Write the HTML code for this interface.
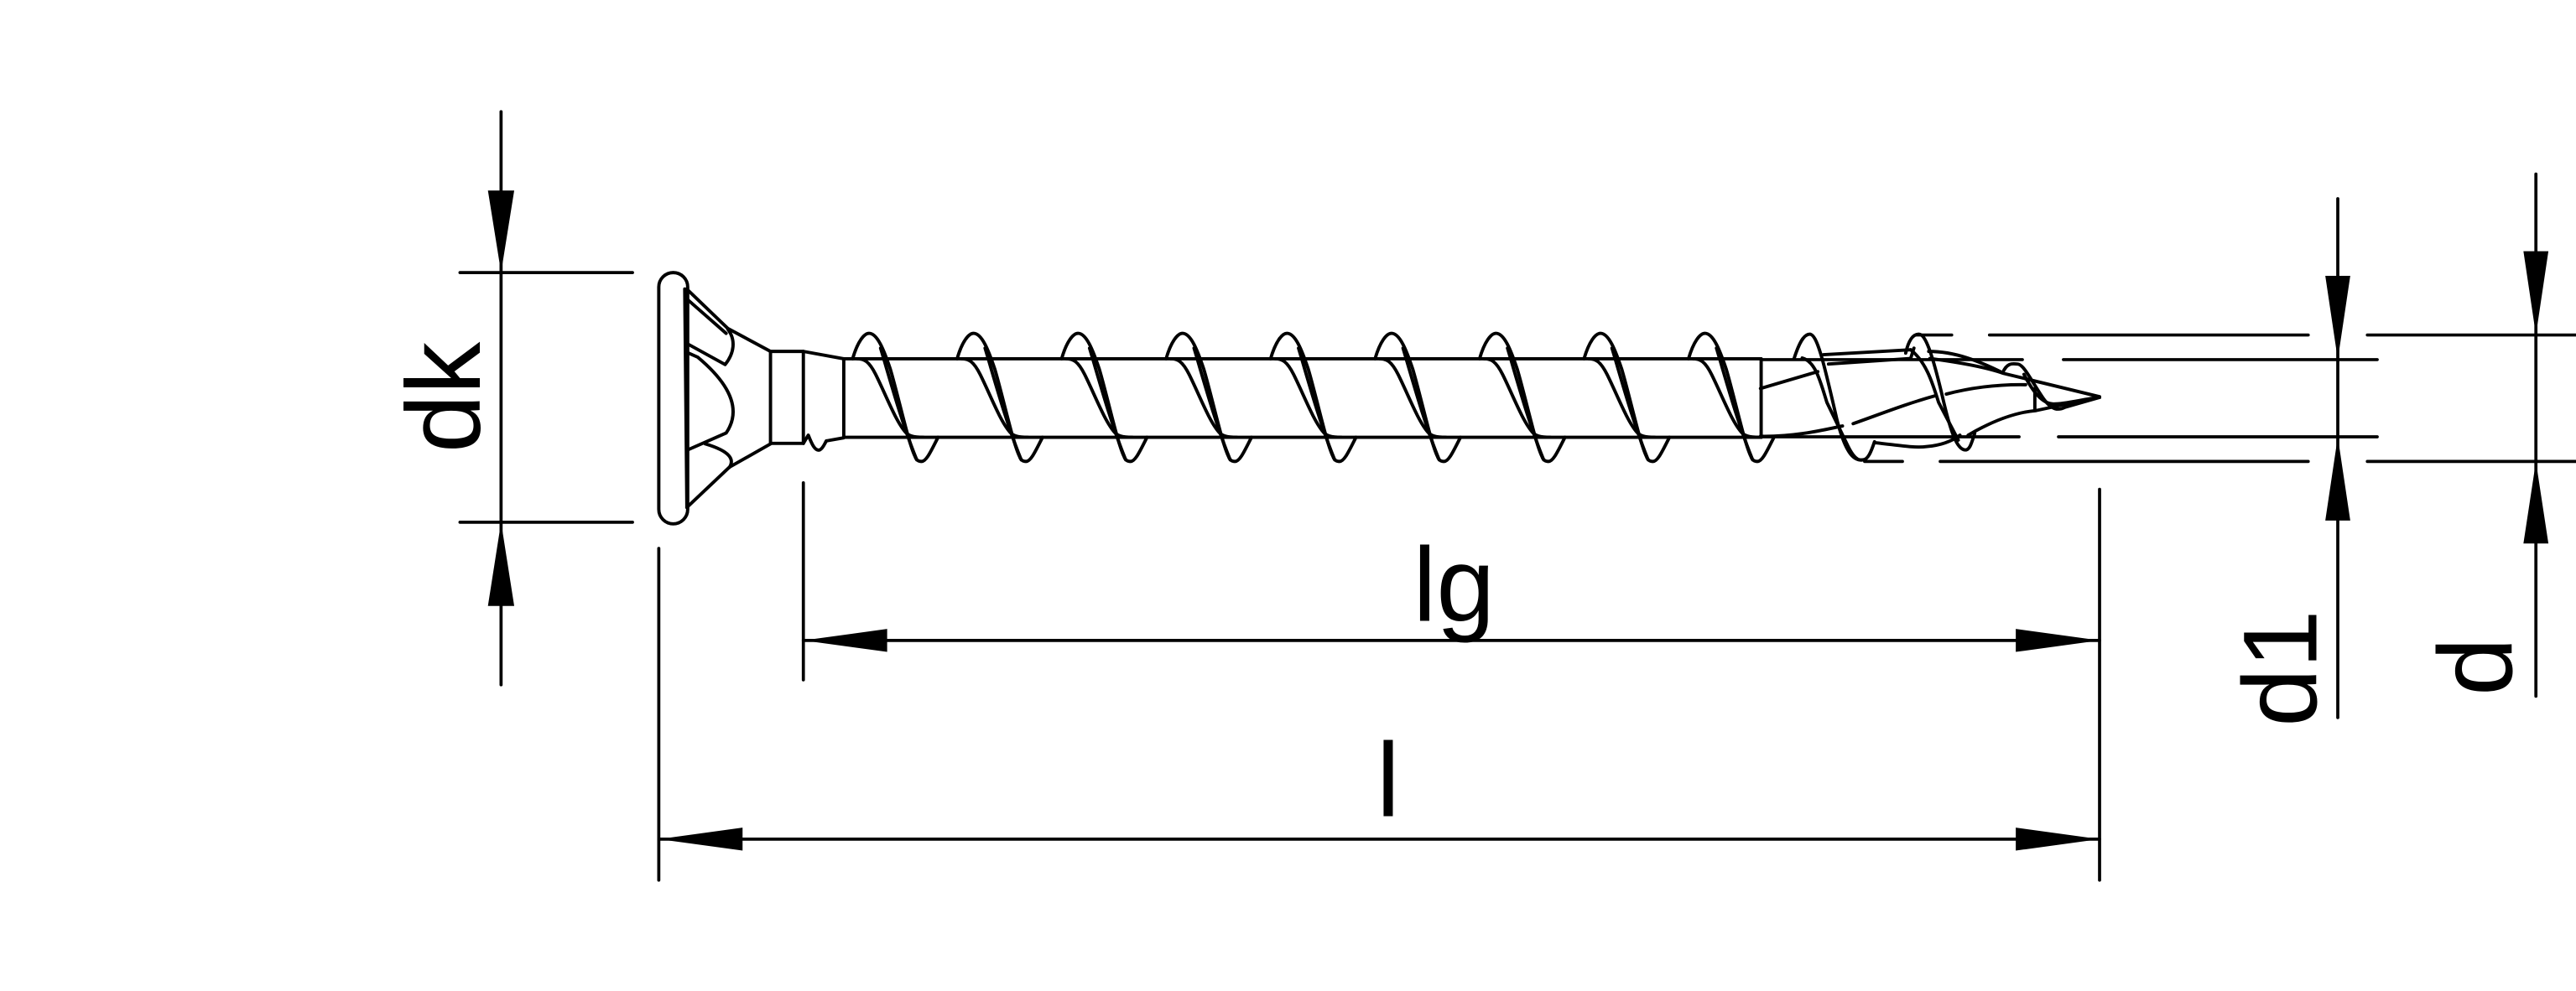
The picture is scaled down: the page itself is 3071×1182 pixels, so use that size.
<!DOCTYPE html>
<html><head><meta charset="utf-8"><style>
html,body{margin:0;padding:0;background:#fff;}
svg{display:block;}
text{font-family:"Liberation Sans",Arial,sans-serif;fill:#000;}
</style></head><body>
<svg width="3071" height="1182" viewBox="0 0 1568 603.5" preserveAspectRatio="none" xmlns="http://www.w3.org/2000/svg">
<g fill="none" stroke="#000" stroke-width="1.9" stroke-linecap="round" stroke-linejoin="round">
<line x1="305" y1="68" x2="305" y2="417"/>
<line x1="280" y1="166" x2="385" y2="166"/>
<line x1="280" y1="318" x2="385" y2="318"/>
<line x1="401" y1="334" x2="401" y2="536"/>
<line x1="489" y1="294" x2="489" y2="414"/>
<line x1="1278" y1="298" x2="1278" y2="536"/>
<line x1="489" y1="390" x2="1278" y2="390"/>
<line x1="401" y1="511" x2="1278" y2="511"/>
<line x1="1423" y1="121" x2="1423" y2="437"/>
<line x1="1543.6" y1="106" x2="1543.6" y2="424"/>
<line x1="1166" y1="204" x2="1188" y2="204"/><line x1="1211" y1="204" x2="1405" y2="204"/><line x1="1441" y1="204" x2="1568" y2="204"/>
<line x1="1072" y1="219" x2="1231" y2="219"/><line x1="1256" y1="219" x2="1447" y2="219"/>
<line x1="1072" y1="266" x2="1229" y2="266"/><line x1="1253" y1="266" x2="1447" y2="266"/>
<line x1="1135" y1="281" x2="1158" y2="281"/><line x1="1181" y1="281" x2="1405" y2="281"/><line x1="1441" y1="281" x2="1568" y2="281"/>
</g>
<g fill="none" stroke="#000" stroke-width="2" stroke-linecap="round" stroke-linejoin="round">
<rect x="401" y="166" width="17.6" height="153" rx="8.8"/>
<line x1="416.8" y1="176" x2="418.1" y2="309"/>
<path d="M418 176 L443 200 L469 214"/>
<path d="M418 182 L442 203"/>
<path d="M443 200.5 C448 207 447 215 441.4 222 L419 209.7"/>
<path d="M419 215 L424.7 217.5 C448 237 450 252 442 263.7 L419 273.8"/>
<path d="M429.3 270.3 C445 275 447 280 444 284.6"/>
<path d="M418.1 309 L444 284.5 L469 270.3"/>
<rect x="469" y="214" width="20" height="56"/>
<path d="M489 214 L513.6 218.5 L513.6 266.6 L503 268.5"/>
<path d="M489 270 L492 265 C494 270 496 275 499 274 C501 273 502 270 503 268.5"/>
<line x1="513.6" y1="218.5" x2="1072" y2="218.5"/>
<line x1="513.6" y1="266.3" x2="1072" y2="266.3"/>
<line x1="1072" y1="218.5" x2="1072" y2="266.3"/>
<g id="t0">
<path d="M519 218.5 C522 208 526 203 529 203 C534 203 538 213 542 225 C547 242 553 270 557 278 C558 281 560 281 561 281 C564 281 567 274 571 266.3"/>
<path d="M536 212 C542 232 549 258 558 280"/>
<path d="M522 218.5 C526 218.5 529 220 533 228 C539 240 545 256 551 263 C553 265.5 556 266.3 562 266.3"/>
</g>
<use href="#t0" x="63.6"/><use href="#t0" x="127.2"/><use href="#t0" x="190.8"/><use href="#t0" x="254.4"/>
<use href="#t0" x="318"/><use href="#t0" x="381.6"/><use href="#t0" x="445.2"/><use href="#t0" x="508.8"/>
<path d="M1071.6 236.6 L1106.5 226.3"/>
<path d="M1071.6 265.7 C1090 266 1105 263 1121.5 259.4"/>
<path d="M1092 218.5 C1096 206 1099 203.5 1101.6 203.5 C1106 203.5 1110 220 1118 255 C1123 275 1128 281 1134 280 C1137 280 1139 275 1141 269"/>
<path d="M1097 218 C1105 220 1108 232 1112 245 L1125 272 C1128 278 1131 281 1134 280"/>
<path d="M1109.9 216 L1163 213"/>
<path d="M1113 221.7 L1163 218.3 L1165 212"/>
<path d="M1128 258 C1145 252 1160 246 1178 241"/>
<path d="M1141.5 269.6 C1155 271 1165 273 1173 271.9 C1183 271 1189 268 1193 265"/>
<path d="M1160 215 C1162 206 1165 203.5 1168 203.5 C1172 203.5 1176 215 1182 240 C1187 262 1191 274 1196.3 274 C1199 274 1200 270 1202 264"/>
<path d="M1163 213 C1172 220 1176 232 1180 245 L1192 268"/>
<path d="M1184.7 240 C1200 236 1215 234 1233 234.3"/>
<path d="M1198 265 C1215 255 1228 251 1239.5 250 L1276 242.2"/>
<path d="M1174.7 218.3 C1195 221 1210 224 1219.6 227.4 L1278 241.6"/>
<path d="M1174 214 C1190 214 1205 220 1219 227"/>
<path d="M1219 227 C1222 220 1226 221.7 1228 221.7 C1232 221.7 1237 233 1244 243 C1249 250 1253 250 1257 248 L1278 242"/>
<path d="M1232 228 C1238 240 1244 246 1250 246 C1258 246 1268 243 1278 242"/>
<line x1="1238.6" y1="236.6" x2="1238.6" y2="250"/>
</g>
<g fill="#000" stroke="none">
<polygon points="305,166 297,116 313,116"/>
<polygon points="305,318 297,369 313,369"/>
<polygon points="489,390 540,383 540,397"/>
<polygon points="1278,390 1227,383 1227,397"/>
<polygon points="401,511 452,504 452,518"/>
<polygon points="1278,511 1227,504 1227,518"/>
<polygon points="1423,219 1415.4,168 1430.6,168"/>
<polygon points="1423,266 1415.4,317 1430.6,317"/>
<polygon points="1543.6,204 1536,153 1551.2,153"/>
<polygon points="1543.6,281 1536,331 1551.2,331"/>
</g>
<text x="885" y="378" font-size="64" text-anchor="middle">lg</text>
<text x="845" y="497" font-size="64" text-anchor="middle">l</text>
<text transform="translate(292,242) rotate(-90)" font-size="64" text-anchor="middle">dk</text>
<text transform="translate(1410,407) rotate(-90)" font-size="64" text-anchor="middle">d1</text>
<text transform="translate(1529,406) rotate(-90)" font-size="64" text-anchor="middle">d</text>
</svg>
</body></html>
